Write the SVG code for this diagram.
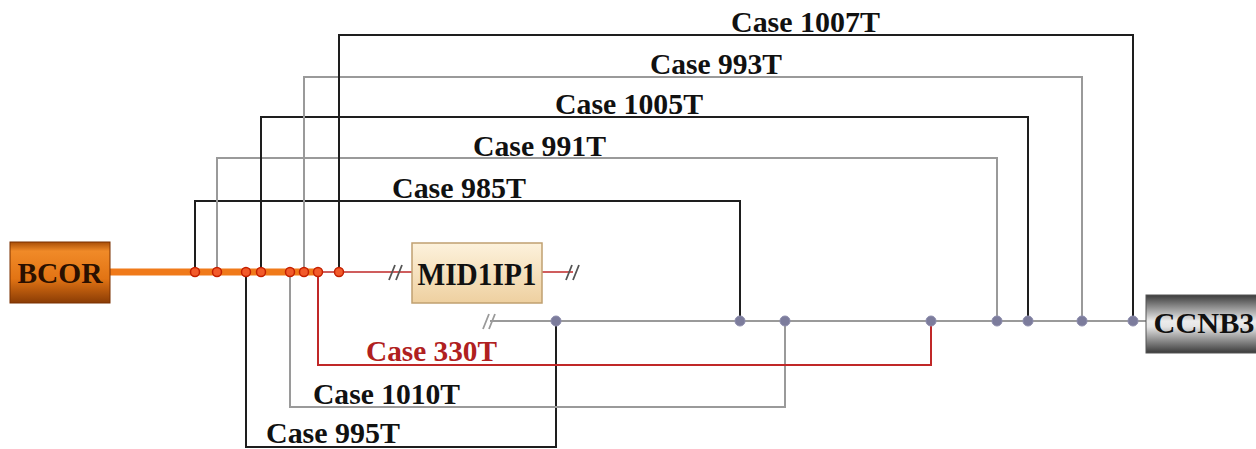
<svg xmlns="http://www.w3.org/2000/svg" width="1256" height="449" viewBox="0 0 1256 449">
<defs>
<linearGradient id="gBcor" x1="0" y1="0" x2="0" y2="1">
<stop offset="0" stop-color="#a84e08"/><stop offset="0.15" stop-color="#f08a28"/><stop offset="0.6" stop-color="#e27414"/><stop offset="1" stop-color="#8a3c05"/>
</linearGradient>
<linearGradient id="gMid" x1="0" y1="0" x2="0" y2="1">
<stop offset="0" stop-color="#fdf2dc"/><stop offset="1" stop-color="#eed0a0"/>
</linearGradient>
<linearGradient id="gCcnb" x1="0" y1="0" x2="0" y2="1">
<stop offset="0" stop-color="#3c3c3c"/><stop offset="0.45" stop-color="#ececec"/><stop offset="0.55" stop-color="#e4e4e4"/><stop offset="1" stop-color="#3a3a3a"/>
</linearGradient>
<style>
.lbl{font-family:"Liberation Serif","Times New Roman",serif;font-weight:bold;font-size:29px;fill:#111}
.red{fill:#b02020}
.blk{fill:none;stroke:#1e1e1e;stroke-width:2}
.gry{fill:none;stroke:#9a9a9a;stroke-width:2}
.rd{fill:none;stroke:#c02828;stroke-width:2}
.oc{fill:#f25a2a;stroke:#c42000;stroke-width:1.5}
.gc{fill:#7c7c9c;stroke:#8c8cac;stroke-width:1}
.brk{stroke-width:1.8;fill:none}
.node{font-family:"Liberation Serif","Times New Roman",serif;font-weight:bold;fill:#111;text-anchor:middle}
</style>
</defs>
<rect width="1256" height="449" fill="#ffffff"/>
<g id="connectors">
<path class="blk" d="M195,272 V201 H740 V321"/>
<path class="gry" d="M217,272 V158 H997 V321"/>
<path class="blk" d="M261,272 V117 H1028 V321"/>
<path class="gry" d="M304,272 V77 H1082 V321"/>
<path class="blk" d="M339,272 V35 H1133 V321"/>
<path class="blk" d="M246,272 V447 H556 V321"/>
<path class="gry" d="M290,272 V407 H785 V321"/>
<path class="rd" d="M318,272 V365 H931 V321"/>
<path class="gry" d="M490,321 H1147"/>
<path class="gry brk" d="M483,329 L489,314 M489,329 L495,314"/>
<path class="rd" style="stroke-width:1.5" d="M318,272 H412 M542,272 H573"/>
<path class="brk" stroke="#555" d="M389,280 L395,265 M396,280 L402,265 M566,280 L572,265 M573,280 L579,265"/>
<path d="M110,272 H318" stroke="#f07a1a" stroke-width="7" fill="none"/>
<g>
<circle class="oc" cx="195" cy="272" r="4.5"/>
<circle class="oc" cx="217" cy="272" r="4.5"/>
<circle class="oc" cx="246" cy="272" r="4.5"/>
<circle class="oc" cx="261" cy="272" r="4.5"/>
<circle class="oc" cx="290" cy="272" r="4.5"/>
<circle class="oc" cx="304" cy="272" r="4.5"/>
<circle class="oc" cx="318" cy="272" r="4.5"/>
<circle class="oc" cx="339" cy="272" r="4.5"/>
</g>
<g>
<circle class="gc" cx="556" cy="321" r="5"/>
<circle class="gc" cx="740" cy="321" r="5"/>
<circle class="gc" cx="785" cy="321" r="5"/>
<circle class="gc" cx="931" cy="321" r="5"/>
<circle class="gc" cx="997" cy="321" r="5"/>
<circle class="gc" cx="1028" cy="321" r="5"/>
<circle class="gc" cx="1082" cy="321" r="5"/>
<circle class="gc" cx="1133" cy="321" r="5"/>
</g>
<text class="lbl" x="731" y="32" textLength="149" lengthAdjust="spacingAndGlyphs">Case 1007T</text>
<text class="lbl" x="650" y="74" textLength="132" lengthAdjust="spacingAndGlyphs">Case 993T</text>
<text class="lbl" x="555" y="114" textLength="148" lengthAdjust="spacingAndGlyphs">Case 1005T</text>
<text class="lbl" x="473" y="156" textLength="133" lengthAdjust="spacingAndGlyphs">Case 991T</text>
<text class="lbl" x="392" y="198" textLength="134" lengthAdjust="spacingAndGlyphs">Case 985T</text>
<text class="lbl red" x="366" y="361" textLength="131" lengthAdjust="spacingAndGlyphs">Case 330T</text>
<text class="lbl" x="313" y="404" textLength="147" lengthAdjust="spacingAndGlyphs">Case 1010T</text>
<text class="lbl" x="266" y="443" textLength="134" lengthAdjust="spacingAndGlyphs">Case 995T</text>
</g>
<g id="BCOR">
<rect x="10" y="242" width="100" height="61" fill="url(#gBcor)" stroke="#7a3000" stroke-width="1"/>
<text class="node" x="60" y="283" font-size="30" textLength="85" lengthAdjust="spacingAndGlyphs" style="fill:#2a1000">BCOR</text>
</g>
<g id="MID1IP1">
<rect x="412" y="243" width="130" height="60" fill="url(#gMid)" stroke="#c0a070" stroke-width="1.5"/>
<text class="node" x="477" y="285" font-size="32" textLength="119" lengthAdjust="spacingAndGlyphs">MID1IP1</text>
</g>
<g id="CCNB3">
<rect x="1146" y="295" width="112" height="58" fill="url(#gCcnb)" stroke="#555" stroke-width="1"/>
<text class="node" x="1204" y="333" font-size="29" textLength="101" lengthAdjust="spacingAndGlyphs">CCNB3</text>
</g>
</svg>
